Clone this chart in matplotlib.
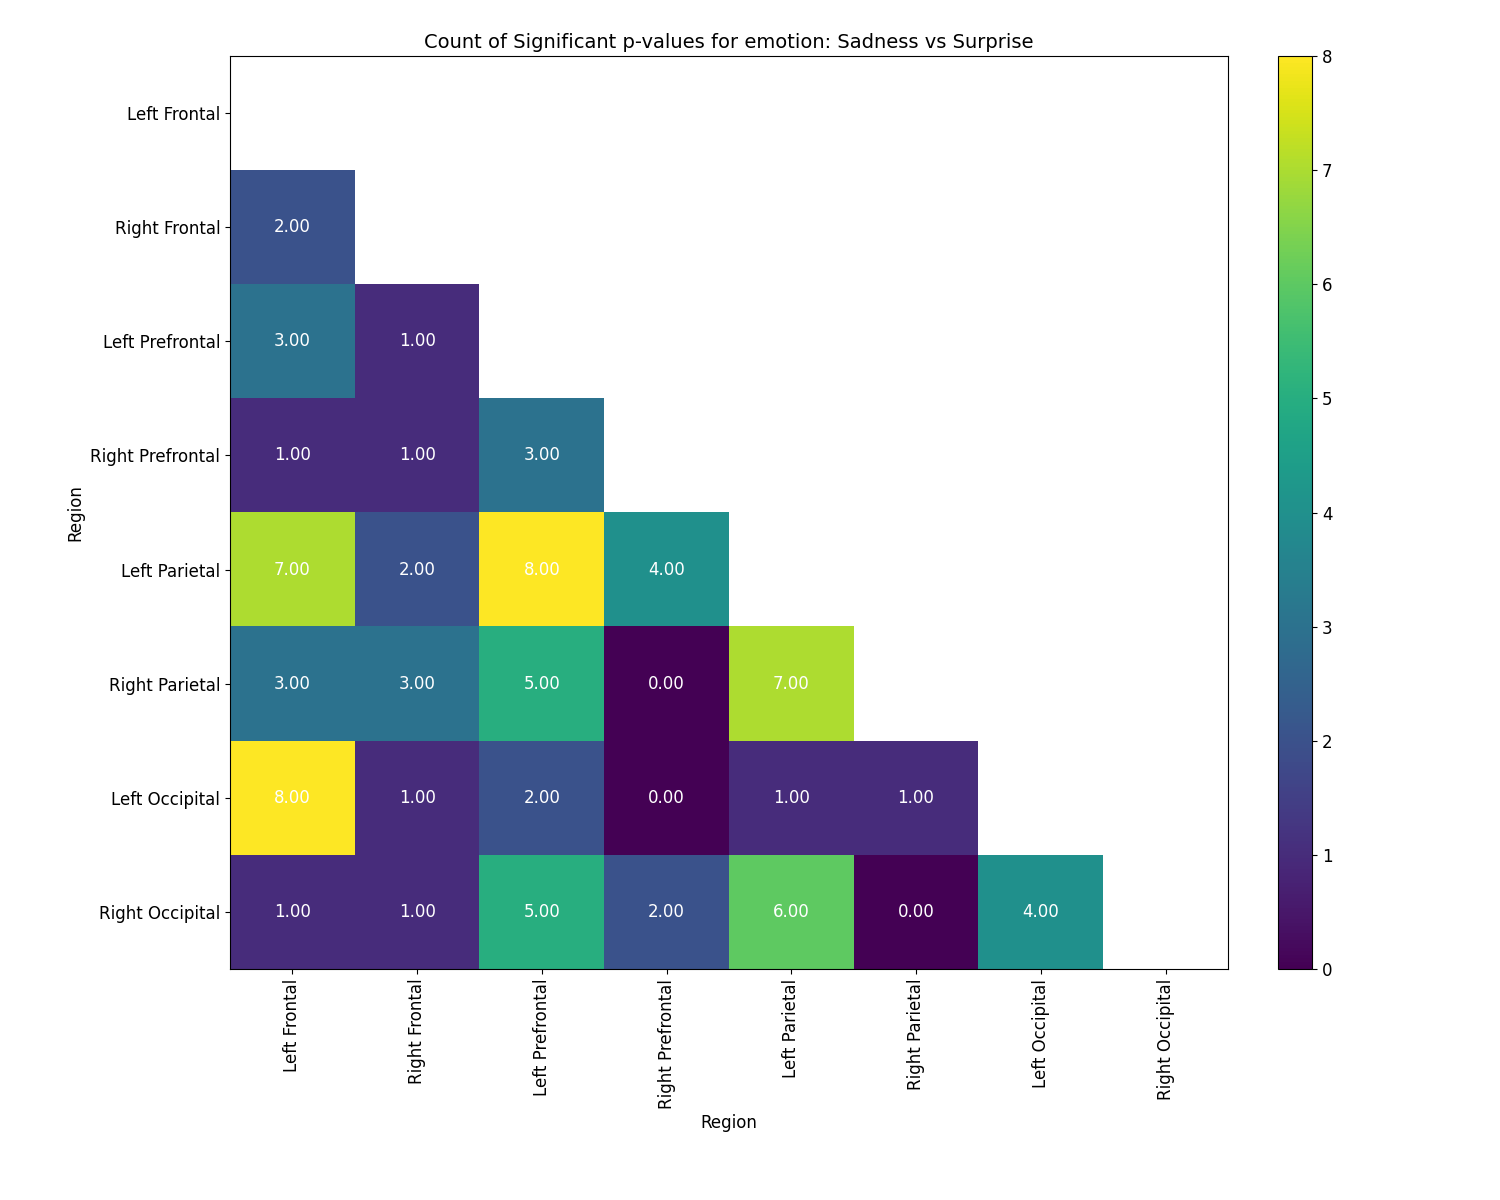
import numpy as np
import matplotlib
matplotlib.use("Agg")
import matplotlib.pyplot as plt

regions = ["Left Frontal", "Right Frontal", "Left Prefrontal", "Right Prefrontal",
           "Left Parietal", "Right Parietal", "Left Occipital", "Right Occipital"]
# lower-triangle rows (row i has i values)
row_values = [
    [],
    [2],
    [3, 1],
    [1, 1, 3],
    [7, 2, 8, 4],
    [3, 3, 5, 0, 7],
    [8, 1, 2, 0, 1, 1],
    [1, 1, 5, 2, 6, 0, 4],
]

n = len(regions)
data = np.full((n, n), np.nan)
for i, vals in enumerate(row_values):
    for j, v in enumerate(vals):
        data[i, j] = v
masked = np.ma.masked_invalid(data)

fig = plt.figure(figsize=(15, 12), dpi=100)
ax = fig.add_axes([0.1533, 0.1925, 0.6653, 0.7608])
cax = fig.add_axes([0.852, 0.1925, 0.0227, 0.7608])
im = ax.imshow(masked, cmap="viridis", vmin=0, vmax=8, aspect="auto")
for i in range(n):
    for j in range(n):
        if not np.isnan(data[i, j]):
            ax.text(j, i, f"{data[i, j]:.2f}", ha="center", va="center",
                    color="white", fontsize=12)
ax.set_xticks(range(n))
ax.set_xticklabels(regions, rotation=90, fontsize=12)
ax.set_yticks(range(n))
ax.set_yticklabels(regions, fontsize=12)
ax.set_xlabel("Region", fontsize=12)
ax.set_ylabel("Region", fontsize=12)
ax.set_title("Count of Significant p-values for emotion: Sadness vs Surprise", fontsize=14)
cb = fig.colorbar(im, cax=cax)
cb.ax.tick_params(labelsize=12)
fig.savefig("out.png", dpi=100)
